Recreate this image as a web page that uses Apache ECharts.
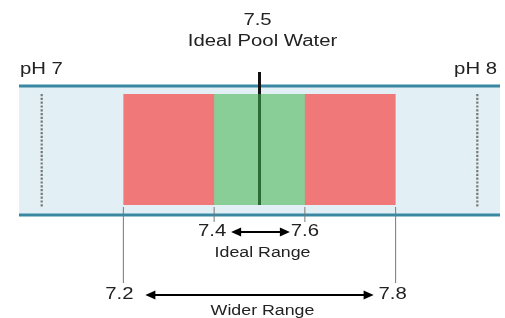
<!DOCTYPE html>
<html>
<head>
<meta charset="UTF-8">
<title>pH scale</title>
<script type="text/javascript" src="https://cdn.jsdelivr.net/npm/echarts@6/dist/echarts.min.js"></script>
<style>
  html, body { margin: 0; padding: 0; background: #fff; }
</style>
</head>
<body>
<div id="main" style="width:505px;height:318px"></div>
<script type="text/javascript">
// scale data
var scaleMin = 6.97, scaleMax = 8.03;
var scaleEnds = ['pH 7', 'pH 8'];
var rangeNames = ['Wider Range', 'Ideal Range'];
var rangeLow = [7.2, 7.4];
var rangeHigh = [7.8, 7.6];
var idealValue = 7.5;
var idealLabel = 'Ideal Pool Water';
var guideValues = [7.02, 7.98];

// styles / layout (y in px, axis is inverted pixel space)
var rangeColors = ['#f07879', '#89cd97'];
var bandFill = '#e2f0f6', bandLine = '#3a87a2';
var bandTop = 86, bandBottom = 215, rectTop = 94, rectBottom = 205;
var tickEnd = [283, 222];        // bottom of tick lines per range
var numY = [295, 232];           // number label row per range
var nameY = [311, 253];          // range name row
var arrowPad = [[22, 22], [17, 15]];
var textColor = '#222';
var fontFam = '"Liberation Sans", Arial, sans-serif';
var stretch = 1.27;              // source text is drawn wide

function txt(s, x, y, size, align) {
  return {
    type: 'text',
    x: x, y: y, scaleX: stretch,
    style: {
      text: s, x: 0, y: 0, fill: textColor,
      font: size + 'px ' + fontFam,
      align: align || 'center', textAlign: align || 'center',
      verticalAlign: 'middle', textVerticalAlign: 'middle'
    }
  };
}

function arrowHead(x, y, dir) {
  var L = 10, W = 4.5;
  return {
    type: 'polygon',
    shape: { points: [[x, y], [x + dir * L, y - W], [x + dir * L, y + W]] },
    style: { fill: '#000' }
  };
}

var myChart = echarts.init(document.getElementById('main'));

var option = {
  animation: false,
  grid: { left: 19, right: 5, top: 0, bottom: 0 },
  xAxis: { type: 'value', min: scaleMin, max: scaleMax, show: false },
  yAxis: { type: 'value', min: 0, max: 318, inverse: true, show: false },
  series: [
    {
      // background band
      type: 'custom',
      data: [[scaleMin, scaleMax]],
      renderItem: function (params, api) {
        var a = api.coord([api.value(0), bandTop]);
        var b = api.coord([api.value(1), bandBottom]);
        return {
          type: 'group',
          children: [
            { type: 'rect', shape: { x: a[0], y: a[1], width: b[0] - a[0], height: b[1] - a[1] }, style: { fill: bandFill } },
            { type: 'line', shape: { x1: a[0], y1: a[1], x2: b[0], y2: a[1] }, style: { stroke: bandLine, lineWidth: 3 } },
            { type: 'line', shape: { x1: a[0], y1: b[1], x2: b[0], y2: b[1] }, style: { stroke: bandLine, lineWidth: 3 } }
          ]
        };
      }
    },
    {
      // dotted guides near scale ends
      type: 'custom',
      data: guideValues.map(function (v) { return [v]; }),
      renderItem: function (params, api) {
        var a = api.coord([api.value(0), rectTop]);
        var b = api.coord([api.value(0), rectBottom + 2]);
        return { type: 'line', shape: { x1: a[0], y1: a[1], x2: b[0], y2: b[1] },
          style: { stroke: '#777', lineWidth: 2.2, lineDash: [2.2, 1.6] } };
      }
    },
    {
      // range rectangles
      type: 'custom',
      data: rangeLow.map(function (v, i) { return [v, rangeHigh[i], i]; }),
      renderItem: function (params, api) {
        var i = api.value(2);
        var a = api.coord([api.value(0), rectTop]);
        var b = api.coord([api.value(1), rectBottom]);
        return { type: 'rect', shape: { x: a[0], y: a[1], width: b[0] - a[0], height: b[1] - a[1] },
          style: { fill: rangeColors[i] } };
      }
    },
    {
      // ideal value marker
      type: 'custom',
      data: [[idealValue]],
      renderItem: function (params, api) {
        var top = api.coord([api.value(0), 72]);
        var mid = api.coord([api.value(0), rectTop]);
        var bot = api.coord([api.value(0), rectBottom]);
        return {
          type: 'group',
          children: [
            { type: 'line', shape: { x1: top[0], y1: top[1], x2: mid[0], y2: mid[1] }, style: { stroke: '#111', lineWidth: 3 } },
            { type: 'line', shape: { x1: mid[0], y1: mid[1], x2: bot[0], y2: bot[1] }, style: { stroke: '#2c6a38', lineWidth: 3 } },
            txt(String(idealValue), top[0] - 2, 21, 16),
            txt(idealLabel, top[0] + 3, 42, 16)
          ]
        };
      }
    },
    {
      // range ticks, arrows and labels
      type: 'custom',
      data: rangeLow.map(function (v, i) { return [v, rangeHigh[i], i]; }),
      renderItem: function (params, api) {
        var i = api.value(2);
        var lo = api.coord([api.value(0), numY[i]]);
        var hi = api.coord([api.value(1), numY[i]]);
        var y = lo[1];
        var x1 = lo[0] + arrowPad[i][0], x2 = hi[0] - arrowPad[i][1];
        var off = i === 0 ? -4 : -2;
        return {
          type: 'group',
          children: [
            { type: 'line', shape: { x1: lo[0], y1: rectBottom + 2, x2: lo[0], y2: tickEnd[i] }, style: { stroke: '#777', lineWidth: 1 } },
            { type: 'line', shape: { x1: hi[0], y1: rectBottom + 2, x2: hi[0], y2: tickEnd[i] }, style: { stroke: '#777', lineWidth: 1 } },
            { type: 'line', shape: { x1: x1 + 6, y1: y, x2: x2 - 6, y2: y }, style: { stroke: '#000', lineWidth: 2 } },
            arrowHead(x1, y, 1),
            arrowHead(x2, y, -1),
            txt(rangeLow[i].toFixed(1), lo[0] + off, y, 16),
            txt(rangeHigh[i].toFixed(1), hi[0] + (i === 0 ? -3 : 0), y, 16),
            txt(rangeNames[i], (lo[0] + hi[0]) / 2 + 3, nameY[i], 14)
          ]
        };
      }
    },
    {
      // scale end labels
      type: 'custom',
      data: [[scaleMin, scaleMax]],
      renderItem: function (params, api) {
        var a = api.coord([api.value(0), 70]);
        var b = api.coord([api.value(1), 70]);
        return {
          type: 'group',
          children: [
            txt(scaleEnds[0], a[0] + 1, a[1], 16, 'left'),
            txt(scaleEnds[1], b[0] - 3, b[1], 16, 'right')
          ]
        };
      }
    }
  ]
};
myChart.setOption(option);
</script>
</body>
</html>
